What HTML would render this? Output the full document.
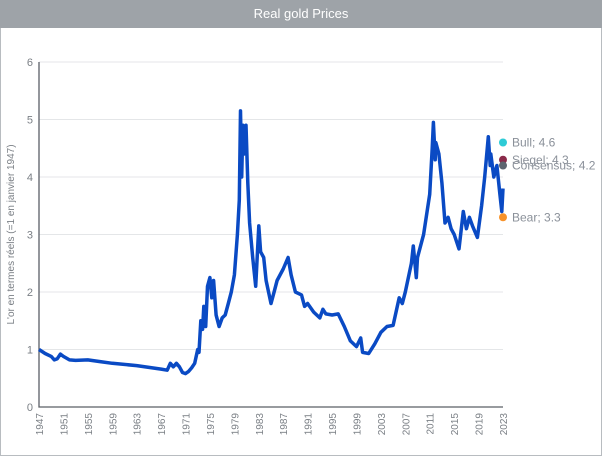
<!DOCTYPE html>
<html><head><meta charset="utf-8"><style>
body{margin:0;width:602px;height:456px;overflow:hidden;background:#fff;font-family:"Liberation Sans",sans-serif}
#frame{position:absolute;left:0;top:0;width:600px;height:454px;border:1px solid #b8bcc0}
#title{position:absolute;left:0;top:0;width:602px;height:28px;background:#9ea3a8;color:#fff;font-size:13px;text-align:center;line-height:28px}
</style></head><body>
<div id="frame"></div>
<div id="title">Real gold Prices</div>
<svg id="chart" width="602" height="456" style="position:absolute;left:0;top:0"></svg>
<script>
const years=[1947,1948,1949,1949.5,1950,1950.5,1951,1952,1953,1955,1957,1959,1963,1967,1968,1968.5,1969,1969.5,1970,1970.5,1971,1971.5,1972,1972.5,1973,1973.2,1973.5,1973.8,1974,1974.3,1974.6,1975,1975.3,1975.6,1976,1976.5,1977,1977.5,1978,1978.5,1979,1979.5,1979.8,1980,1980.2,1980.4,1980.6,1980.9,1981.2,1981.5,1982,1982.5,1983,1983.3,1983.8,1984.2,1985,1985.5,1986,1987,1987.8,1988.3,1989,1990,1990.5,1991,1992,1993,1993.5,1994,1995,1996,1997,1998,1999,1999.7,2000,2001,2002,2003,2004,2005,2006,2006.5,2007,2008,2008.3,2008.8,2009,2010,2011,2011.4,2011.6,2011.9,2012,2012.5,2012.8,2013,2013.5,2014,2014.5,2015,2015.8,2016.5,2017,2017.5,2018,2018.8,2019.5,2020,2020.6,2020.9,2021,2021.5,2022,2022.3,2022.5,2022.8,2023];
const prices=[1.0,0.93,0.88,0.82,0.84,0.92,0.88,0.82,0.81,0.82,0.79,0.76,0.72,0.66,0.64,0.76,0.70,0.76,0.70,0.60,0.58,0.62,0.68,0.76,1.0,0.95,1.5,1.35,1.75,1.4,2.1,2.25,1.9,2.2,1.6,1.4,1.55,1.6,1.8,2.0,2.3,3.0,3.6,5.15,4.0,4.9,4.4,4.9,3.9,3.2,2.6,2.1,3.15,2.7,2.6,2.2,1.8,2.0,2.2,2.4,2.6,2.3,2.0,1.95,1.75,1.8,1.65,1.55,1.7,1.62,1.6,1.62,1.4,1.15,1.05,1.2,0.95,0.93,1.1,1.3,1.4,1.42,1.9,1.8,2.0,2.5,2.8,2.25,2.6,3.0,3.7,4.5,4.95,4.3,4.6,4.4,4.1,3.9,3.2,3.3,3.1,3.0,2.75,3.4,3.1,3.3,3.15,2.95,3.5,4.0,4.7,4.2,4.4,4.0,4.2,3.9,3.7,3.4,3.8];
const scenarioNames=["Bull","Siegel","Consensus","Bear"];
const scenarioValues=[4.6,4.3,4.2,3.3];
const scenarioColors=["#2ecbd6","#8a2a4a","#5d6570","#f7922a"];
const yTicks=[0,1,2,3,4,5,6];
const xTicks=[1947,1951,1955,1959,1963,1967,1971,1975,1979,1983,1987,1991,1995,1999,2003,2007,2011,2015,2019,2023];
const X0=39,X1=503,Y0=407,Y1=62;
const xs=v=>X0+(v-1947)/(2023-1947)*(X1-X0);
const ys=v=>Y0-(v/6)*(Y0-Y1);
const svg=document.getElementById('chart');const NS='http://www.w3.org/2000/svg';
function mk(t,a){const e=document.createElementNS(NS,t);for(const k in a)e.setAttribute(k,a[k]);svg.appendChild(e);return e;}
yTicks.forEach(v=>{
 if(v>0){const g=mk('line',{x1:X0,x2:X1,y1:ys(v),y2:ys(v),stroke:'#e4e6e8','stroke-width':1});
 
 }
 const t=mk('text',{x:X0-6,y:ys(v)+4,'text-anchor':'end','font-size':11,fill:'#7a7f85'});t.textContent=v;
 
 
});
xTicks.forEach(v=>{
 const t=mk('text',{transform:`translate(${xs(v)+4},${Y0+6}) rotate(-90)`,'text-anchor':'end','font-size':10,fill:'#7a7f85'});t.textContent=v;
 
 
});
const ax=mk('path',{d:`M${X0},${Y1} V${Y0} H${X1}`,fill:'none',stroke:'#5a5f66','stroke-width':1.3});


const yt=mk('text',{transform:`translate(14,${(Y0+Y1)/2}) rotate(-90)`,'text-anchor':'middle','font-size':10,fill:'#7a7f85'});
yt.textContent="L'or en termes réels (=1 en janvier 1947)";


const line=mk('path',{d:years.map((y,i)=>(i?'L':'M')+xs(y).toFixed(1)+','+ys(prices[i]).toFixed(1)).join(' '),fill:'none',stroke:'#0a4ac4','stroke-width':3.5,'stroke-linejoin':'round'});


scenarioNames.forEach((n,i)=>{
 const c=mk('circle',{cx:X1,cy:ys(scenarioValues[i]),r:4,fill:scenarioColors[i]});
 
 
 const t=mk('text',{x:X1+9,y:ys(scenarioValues[i])+4,'font-size':12,fill:'#8a9099'});
 t.textContent=n+'; '+scenarioValues[i].toFixed(1);
 
 
});
</script>
</body></html>
